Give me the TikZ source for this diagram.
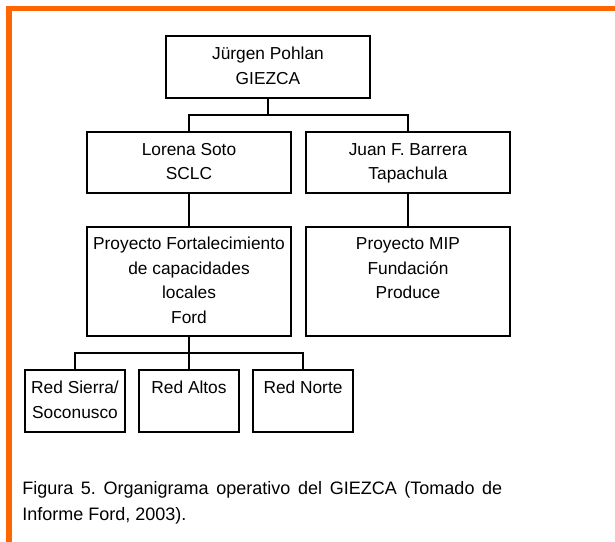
\documentclass[tikz,border=0pt]{standalone}
\usepackage{fontspec}
\setmainfont{Liberation Sans}
\definecolor{borderorange}{HTML}{FF6600}
\frenchspacing
\begin{document}
\begin{tikzpicture}[x=0.75pt,y=-0.75pt,
  orgbox/.style={draw=black,line width=0.8pt,rectangle,inner sep=0pt,align=center,
    font=\fontsize{13pt}{18.4pt}\selectfont},
  wide/.style={orgbox,minimum width=153pt},
  small/.style={orgbox,minimum width=75pt},
  link/.style={draw=black,line width=0.8pt}]
\useasboundingbox (0,0) rectangle (615,542);
\fill[white] (0,0) rectangle (615,542);
\fill[borderorange] (6,6) rectangle (615,11.5);
\fill[borderorange] (6,6) rectangle (11.5,542);

\node[wide,minimum height=46.5pt] (top) at (268,67) {\strut Jürgen Pohlan\\GIEZCA\strut};
\node[wide,minimum height=45.75pt] (lorena) at (189,162.5) {\strut Lorena Soto\\SCLC\strut};
\node[wide,minimum height=45.75pt] (juan) at (408,162.5) {\strut Juan F. Barrera\\Tapachula\strut};
\node[wide,minimum height=81.75pt] (fort) at (189,281.5) {\strut Proyecto Fortalecimiento\\de capacidades\\locales\\Ford\strut};
\node[wide,minimum height=81.75pt] (mip) at (408,281.5) {\strut Proyecto MIP\\Fundación\\Produce\\\strut};
\node[small,minimum height=46.5pt] (sierra) at (75,401) {\strut Red Sierra/\\Soconusco\strut};
\node[small,minimum height=46.5pt] (altos) at (189,401) {\strut Red Altos\\\strut};
\node[small,minimum height=46.5pt] (norte) at (303,401) {\strut Red Norte\\\strut};

\coordinate (j1) at (268,115);
\coordinate (j2) at (189,353);
\path[link] (top.south) -- (j1);
\path[link] (lorena.north) |- (j1) -| (juan.north);
\path[link] (lorena.south) -- (fort.north);
\path[link] (juan.south) -- (mip.north);
\path[link] (fort.south) -- (altos.north);
\path[link] (sierra.north) |- (j2) -| (norte.north);

\node[anchor=north west,inner sep=0pt,text width=360pt,align=justify,
  font=\fontsize{13.5pt}{19.5pt}\selectfont] (caption) at (22,481)
  {Figura 5. Organigrama operativo del GIEZCA (Tomado de\linebreak Informe Ford, 2003).};
\end{tikzpicture}
\end{document}
